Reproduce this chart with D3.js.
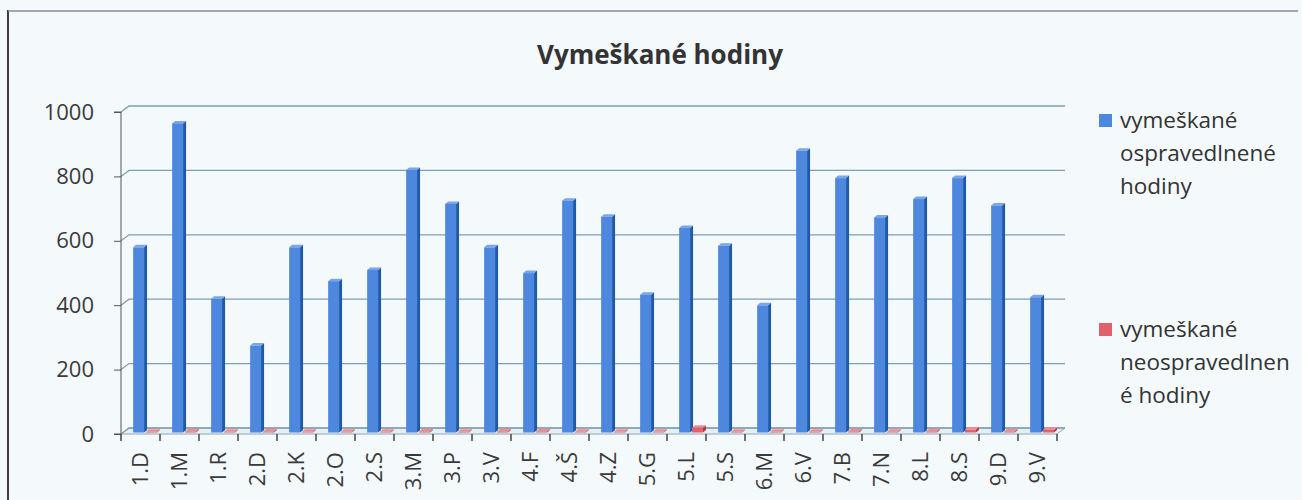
<!DOCTYPE html>
<html>
  <head>
    <meta charset="utf-8">
    <title>Vymeškané hodiny</title>
    <script src="https://d3js.org/d3.v7.min.js"></script>
    <style>
      body { margin: 0; background: #f4f9fc; }
      svg { display: block; font-family: "Open Sans", sans-serif; }
      .axis text { fill: #3a3a3a; font-family: "Open Sans", sans-serif; }
      .axis path, .axis line { stroke: #555; }
    </style>
  </head>
  <body>
    <svg id="chart" width="1302" height="500"></svg>
    <script>
      // data
      var classes = ["1.D", "1.M", "1.R", "2.D", "2.K", "2.O", "2.S", "3.M", "3.P", "3.V", "4.F", "4.Š",
                     "4.Z", "5.G", "5.L", "5.S", "6.M", "6.V", "7.B", "7.N", "8.L", "8.S", "9.D", "9.V"];
      var excused = [575, 960, 415, 270, 575, 470, 505, 815, 710, 575, 495, 720,
                     670, 428, 635, 580, 395, 875, 790, 668, 725, 790, 705, 420];
      var unexcused = [2, 3, 2, 3, 2, 2, 2, 3, 2, 3, 3, 2,
                       2, 2, 15, 2, 2, 2, 3, 2, 3, 9, 3, 8];
      var yTicks = [0, 200, 400, 600, 800, 1000];
      var seriesNames = [["vymeškané", "ospravedlnené", "hodiny"], ["vymeškané", "neospravedlnen", "é hodiny"]];

      // name page elements
      svg = d3.select("#chart");
      depth = { x: 8, y: -6 };

      x = d3.scaleBand()
        .domain(classes)
        .range([121, 1057]);
      y = d3.scaleLinear()
        .domain([0, 1000])
        .range([434, 112]);

      // frame of the scanned page
      svg.append("line")
        .attr("x1", 8).attr("x2", 8).attr("y1", 10).attr("y2", 500)
        .attr("stroke", "#3d3d3d").attr("stroke-width", 2);
      svg.append("line")
        .attr("x1", 8).attr("x2", 1298).attr("y1", 11).attr("y2", 11)
        .attr("stroke", "#7f8fa3").attr("stroke-width", 1.5);

      // title
      svg.append("text")
        .attr("x", 660).attr("y", 64)
        .attr("text-anchor", "middle")
        .style("font-size", "26px").style("font-weight", "bold").style("fill", "#333")
        .text("Vymeškané hodiny");

      // floor
      svg.append("path")
        .attr("d", "M" + x.range()[0] + "," + y(0) + "L" + x.range()[1] + "," + y(0) +
          "L" + (x.range()[1] + depth.x) + "," + (y(0) + depth.y) +
          "L" + (x.range()[0] + depth.x) + "," + (y(0) + depth.y) + "Z")
        .attr("fill", "#e4eef4").attr("stroke", "#8fa8b6").attr("stroke-width", 1);

      // gridlines on the back wall
      grid = svg.append("g");
      grid.selectAll("path")
        .data(yTicks)
        .join("path")
          .attr("d", function(d) {
            return "M" + x.range()[0] + "," + y(d) +
              "L" + (x.range()[0] + depth.x) + "," + (y(d) + depth.y) +
              "L" + (x.range()[1] + depth.x) + "," + (y(d) + depth.y);
          })
          .attr("fill", "none").attr("stroke", "#7e9fb2").attr("stroke-width", 1.3);

      // bars (pseudo 3d: front, side, top)
      function drawBars(values, offset, colours) {
        var g = svg.append("g");
        var bw = x.bandwidth() * 0.28;
        var dx = 3, dy = -2.5, ox = 2, oy = -1.5;
        classes.forEach(function(c, i) {
          var x0 = x(c) + x.bandwidth() * offset + ox;
          var top = y(values[i]) + oy;
          var bottom = y(0) + oy;
          g.append("path")
            .attr("d", "M" + (x0 + bw) + "," + bottom + "L" + (x0 + bw + dx) + "," + (bottom + dy) +
              "L" + (x0 + bw + dx) + "," + (top + dy) + "L" + (x0 + bw) + "," + top + "Z")
            .attr("fill", colours[1]);
          g.append("path")
            .attr("d", "M" + x0 + "," + top + "L" + (x0 + dx) + "," + (top + dy) +
              "L" + (x0 + bw + dx) + "," + (top + dy) + "L" + (x0 + bw) + "," + top + "Z")
            .attr("fill", colours[2]);
          g.append("rect")
            .attr("x", x0).attr("y", top)
            .attr("width", bw).attr("height", bottom - top)
            .attr("fill", colours[0]);
        });
      }
      drawBars(excused, 0.26, ["#4d88de", "#1f5aa6", "#79a6ea"]);
      drawBars(unexcused, 0.59, ["#e0606c", "#b03a48", "#ee8c94"]);

      // axes
      yAxis = d3.axisLeft(y)
        .tickValues(yTicks)
        .tickFormat(d3.format("d"))
        .tickSize(7)
        .tickPadding(20);
      svg.append("g")
        .attr("class", "axis")
        .attr("transform", "translate(" + x.range()[0] + ",0)")
        .call(yAxis)
        .call(function(g) { g.selectAll("text").style("font-size", "22px"); })
        .call(function(g) { g.select(".domain").attr("d", "M-7," + y(1000) + "H0V" + y(0) + "H-7"); });

      xAxis = d3.axisBottom(x)
        .tickSize(0);
      svg.append("g")
        .attr("class", "axis")
        .attr("transform", "translate(0," + y(0) + ")")
        .call(xAxis)
        .call(function(g) { g.select(".domain").remove(); })
        .call(function(g) {
          g.selectAll("text")
            .attr("transform", "rotate(-90)")
            .attr("x", -18).attr("y", 0).attr("dy", "0.35em")
            .style("text-anchor", "end")
            .style("font-size", "22px");
        });
      svg.append("g")
        .selectAll("line")
        .data(classes.map(function(c) { return x(c); }).concat([x.range()[1]]))
        .join("line")
          .attr("x1", function(d) { return d; }).attr("x2", function(d) { return d; })
          .attr("y1", y(0)).attr("y2", y(0) + 7)
          .attr("stroke", "#444").attr("stroke-width", 1.5);

      // legend
      legend = svg.append("g").attr("transform", "translate(1099,0)");
      [["#4d88de", 114], ["#e0606c", 323]].forEach(function(d, i) {
        legend.append("rect")
          .attr("x", 0).attr("y", d[1])
          .attr("width", 13).attr("height", 13)
          .attr("fill", d[0]);
        legend.append("text")
          .attr("x", 21).attr("y", d[1] + 14)
          .style("font-size", "22.5px").style("fill", "#333")
          .selectAll("tspan")
          .data(seriesNames[i])
          .join("tspan")
            .attr("x", 21)
            .attr("dy", function(t, j) { return j == 0 ? 0 : 33; })
            .text(function(t) { return t; });
      });
    </script>
  </body>
</html>
